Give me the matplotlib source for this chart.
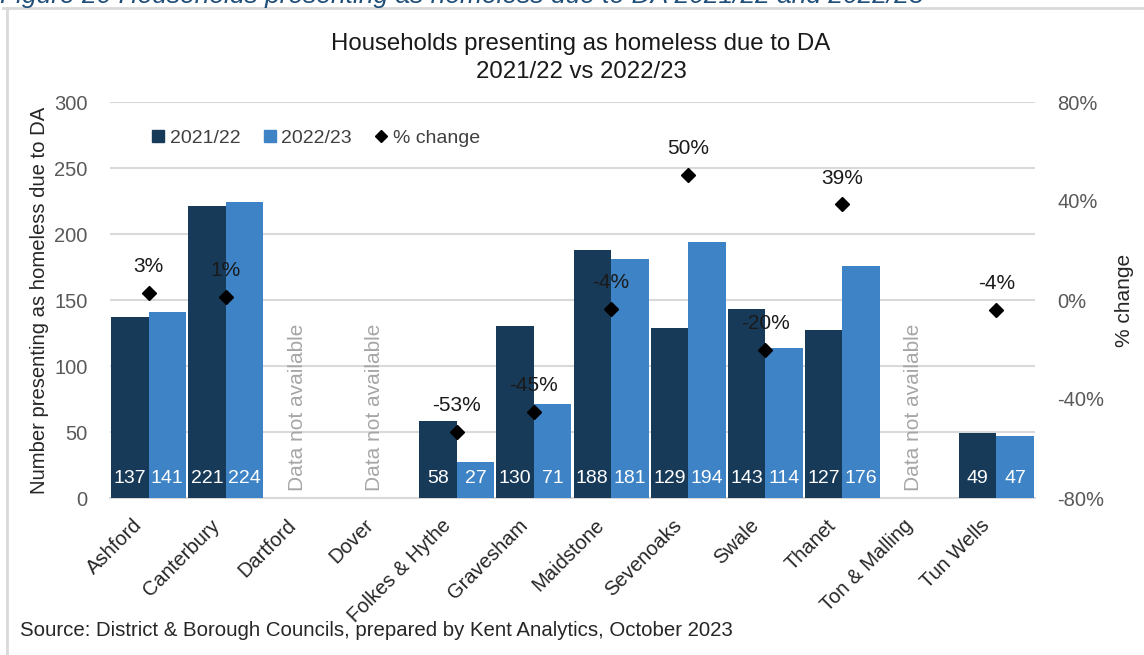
import matplotlib
matplotlib.use("Agg")
import matplotlib.pyplot as plt
from matplotlib import font_manager
from matplotlib.lines import Line2D
from matplotlib.transforms import ScaledTranslation
import numpy as np

names = {f.name for f in font_manager.fontManager.ttflist}
family = "Liberation Sans" if "Liberation Sans" in names else "DejaVu Sans"
plt.rcParams["font.family"] = [family, "DejaVu Sans"]

# ---- data ----
districts = ["Ashford", "Canterbury", "Dartford", "Dover", "Folkes & Hythe",
             "Gravesham", "Maidstone", "Sevenoaks", "Swale", "Thanet",
             "Ton & Malling", "Tun Wells"]
y2122 = [137, 221, None, None, 58, 130, 188, 129, 143, 127, None, 49]
y2223 = [141, 224, None, None, 27, 71, 181, 194, 114, 176, None, 47]
pct_change = [2.9, 1.4, None, None, -53.4, -45.4, -3.7, 50.4, -20.3, 38.6, None, -4.1]

left_ticks = [0, 50, 100, 150, 200, 250, 300]
right_ticks = [-80, -40, 0, 40, 80]

DARK = "#183a59"
LIGHT = "#3d83c5"
GRID = "#d9d9d9"
TICK = "#595959"
TEXT = "#262626"

fig = plt.figure(figsize=(11.44, 6.55), dpi=100)
W, H = 1144, 655
ax = fig.add_axes([110 / W, 1 - 498 / H, (1035 - 110) / W, (498 - 102) / H])
ax2 = ax.twinx()

x = np.arange(len(districts))
bw = 0.487
for i in x:
    if y2122[i] is None:
        ax.text(i - 0.07, 5, "Data not available", rotation=90, ha="center",
                va="bottom", color="#a6a6a6", fontsize=15)
        continue
    ax.bar(i - bw / 2, y2122[i], width=bw, color=DARK, zorder=3)
    ax.bar(i + bw / 2, y2223[i], width=bw, color=LIGHT, zorder=3)
    ax.text(i - bw / 2, 15, str(y2122[i]), ha="center", va="center",
            color="white", fontsize=14, zorder=4)
    ax.text(i + bw / 2, 15, str(y2223[i]), ha="center", va="center",
            color="white", fontsize=14, zorder=4)

ax.set_xlim(-0.5, len(districts) - 0.5)
ax.set_ylim(0, 300)
ax.set_yticks(left_ticks)
ax.yaxis.grid(True, color=GRID, linewidth=1.5, zorder=0)
ax.set_axisbelow(True)
for s in ["top", "right", "left"]:
    ax.spines[s].set_visible(False)
ax.spines["bottom"].set_color(GRID)
ax.spines["bottom"].set_linewidth(1.5)
ax.tick_params(axis="y", length=0, pad=16, labelsize=14.5, labelcolor=TICK)
ax.tick_params(axis="x", length=0, pad=4)
ax.set_xticks(x)
ax.set_xticklabels(districts, rotation=45, ha="right", rotation_mode="anchor",
                   fontsize=14.5, color=TEXT)
shift = ScaledTranslation(-16 / 100, -12 / 100, fig.dpi_scale_trans)
for lbl in ax.get_xticklabels():
    lbl.set_transform(lbl.get_transform() + shift)

# % change diamonds on the secondary axis
px = [i for i in x if pct_change[i] is not None]
py = [pct_change[i] for i in px]
ax2.plot(px, py, linestyle="none", marker="D", markersize=7.5, color="black",
         zorder=5)
for xi, yi in zip(px, py):
    ax2.annotate(f"{yi:.0f}%", (xi, yi), xytext=(0, 19),
                 textcoords="offset points", ha="center", va="center",
                 fontsize=15, color="#1a1a1a")
ax2.set_ylim(-80, 80)
ax2.set_yticks(right_ticks)
ax2.set_yticklabels([f"{t}%" for t in right_ticks])
ax2.tick_params(axis="y", length=0, pad=16, labelsize=14.5, labelcolor=TICK)
for s in ax2.spines.values():
    s.set_visible(False)

# axis titles
fig.text(40 / W, 1 - 300 / H, "Number presenting as homeless due to DA",
         rotation=90, ha="center", va="center", fontsize=14.6, color=TEXT)
fig.text(1125 / W, 1 - 300 / H, "% change", rotation=90, ha="center",
         va="center", fontsize=15, color=TEXT)

handles = [
    Line2D([], [], linestyle="none", marker="s", markersize=8, color=DARK),
    Line2D([], [], linestyle="none", marker="s", markersize=8, color=LIGHT),
    Line2D([], [], linestyle="none", marker="D", markersize=6, color="black"),
]
ax.legend(handles, ["2021/22", "2022/23", "% change"], ncol=3,
          loc="center left", bbox_to_anchor=(0.027, 0.908), frameon=False,
          fontsize=14, handlelength=0.6, handletextpad=0.3,
          columnspacing=1.2, labelcolor="#404040")

fig.text(581 / W, 1 - 58 / H, "Households presenting as homeless due to DA\n2021/22 vs 2022/23",
         ha="center", va="center", fontsize=17.3, color="#1a1a1a",
         linespacing=1.32)

fig.text(20 / W, 1 - 630 / H,
         "Source: District & Borough Councils, prepared by Kent Analytics, October 2023",
         ha="left", va="center", fontsize=14.7, color=TEXT)

# caption above the chart frame
fig.text(0, 1 - 3 / H,
         "Figure 20 Households presenting as homeless due to DA 2021/22 and 2022/23",
         ha="left", va="baseline", fontsize=19, style="italic", color="#1f4e79")

# chart frame
fig.add_artist(Line2D([3 / W, 1], [1 - 8 / H, 1 - 8 / H], color=GRID,
                      linewidth=2, transform=fig.transFigure))
fig.add_artist(Line2D([7 / W, 7 / W], [1 - 8 / H, 0], color=GRID,
                      linewidth=2, transform=fig.transFigure))

fig.savefig("out.png", dpi=100, facecolor="white")
